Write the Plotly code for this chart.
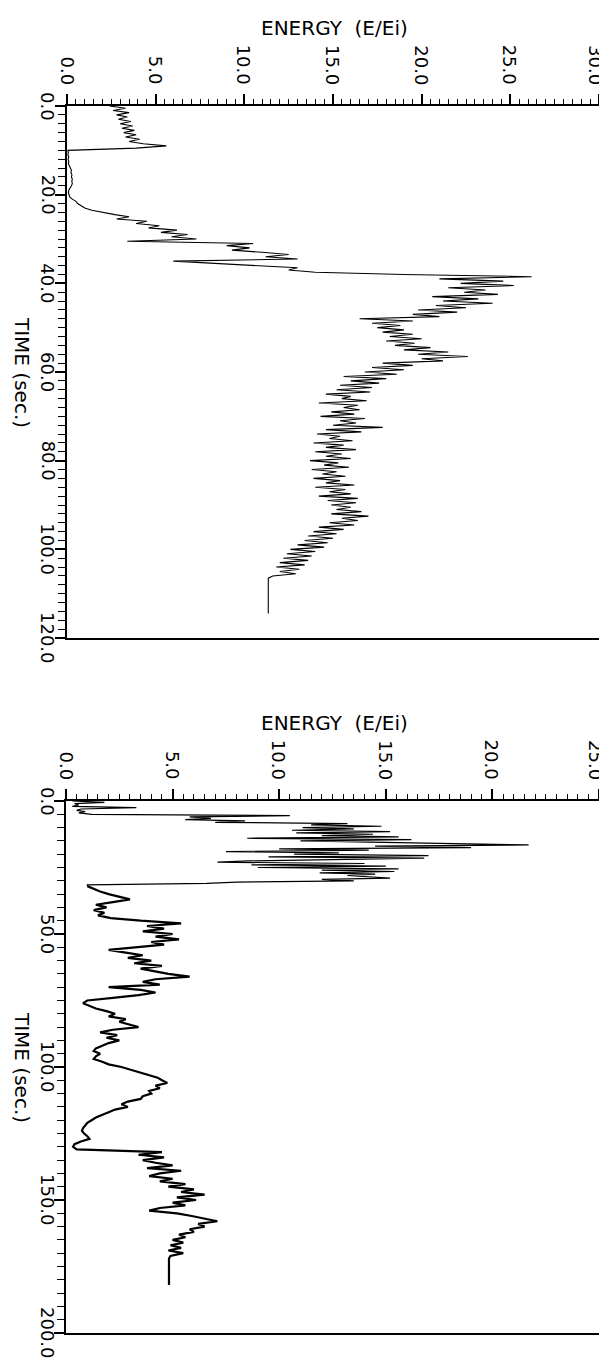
import plotly.graph_objects as go

# ---------------- data ----------------
# Upper chart: energy (E/Ei) sampled every 0.5 s from t = 0
TOP_DT = 0.5
TOP_E = [
    2.4, 3.3, 2.6, 3.5, 2.8, 3.4, 2.9, 3.6, 3.0, 3.7, 3.1, 3.8, 3.2, 3.9, 3.3, 4.1, 3.5, 4.3, 5.6, 3.9,
    0.05, 0.08, 0.05, 0.1, 0.06, 0.1, 0.08, 0.15, 0.2, 0.25, 0.22, 0.28, 0.25, 0.3, 0.27, 0.3, 0.25, 0.15, 0.1, 0.08, 0.1,
    0.15, 0.3, 0.5, 0.6, 0.8, 1.0, 1.4, 2.0, 2.7, 3.5,
    2.8, 4.5, 3.9, 5.2, 4.6, 6.2, 5.3, 6.8, 5.9, 7.3,
    3.4, 10.5, 9.0, 10.3, 9.3, 11.0, 12.5, 11.2, 13.0,
    6.0, 8.5, 11.0, 13.0, 12.5, 14.0, 19.0, 26.2,
    21.0, 24.6, 22.2, 25.2, 21.5, 23.6, 22.4, 24.3, 20.6, 23.2,
    21.2, 24.0, 20.8, 22.5, 19.8, 22.0, 19.5, 21.0, 16.5, 19.5,
    17.2, 18.8, 17.5, 19.0, 17.8, 19.5, 18.2, 20.0, 18.0, 19.6,
    18.5, 20.5, 19.0, 21.5, 19.8, 22.6, 20.0, 21.2, 17.8, 19.5,
    17.2, 19.0, 16.8, 18.6, 15.6, 18.0, 16.0, 17.6, 15.4, 17.2,
    15.2, 17.1, 14.6, 16.0, 15.5, 16.9, 14.2, 16.4, 15.6, 16.5,
    14.9, 16.2, 14.3, 16.8, 15.4, 16.3, 15.0, 17.8, 14.6, 16.6,
    14.1, 15.4, 14.8, 16.1, 13.9, 15.6, 14.6, 16.3, 14.0, 15.5,
    14.6, 16.0, 13.7, 15.3, 14.5, 15.9, 13.8, 15.2, 14.4, 15.7,
    13.9, 15.4, 14.6, 16.2, 14.0, 15.7, 14.8, 16.0, 14.2, 16.4,
    14.7, 16.3, 14.9, 16.0, 15.2, 16.6, 14.9, 17.0, 15.5, 16.4,
    14.8, 16.2, 14.2, 15.6, 13.9, 15.2, 13.6, 15.0, 13.4, 14.7,
    13.0, 14.5, 12.6, 14.0, 12.4, 13.8, 12.2, 13.6, 12.0, 13.4,
    11.8, 13.1, 12.0, 12.9, 11.6,
    11.35, 11.35, 11.35, 11.35, 11.35, 11.35, 11.35, 11.35, 11.35,
    11.35, 11.35, 11.35, 11.35, 11.35, 11.35, 11.35, 11.35,
]

# Lower chart, first part: sampled every 0.5 s from t = 0
BOT_FAST_DT = 0.5
BOT_FAST_E = [
    0.3, 1.8, 0.4, 0.6, 0.3, 3.3, 0.7, 0.5, 0.9, 0.6,
    1.2, 10.5, 5.8, 6.8, 5.6, 8.4, 7.0, 13.2, 11.5, 14.8,
    11.1, 13.5, 10.6, 15.2, 10.8, 14.4, 12.0, 15.6, 8.5, 16.2,
    11.0, 14.0, 18.2, 21.7, 14.5, 19.0, 10.0, 14.2, 7.5, 12.8,
    10.7, 17.0, 9.5, 16.8, 13.0, 8.6, 7.1, 14.0, 8.7, 15.0,
    9.0, 15.6, 12.0, 15.4, 11.9, 14.5, 13.2, 14.2, 15.2, 12.0,
    13.5, 8.0, 6.6, 1.0,
]
# Lower chart, second part: sampled every 1 s from t = 32
BOT_SLOW_T0 = 32.0
BOT_SLOW_DT = 1.0
BOT_SLOW_E = [
    1.0, 1.3, 1.6, 2.0, 2.5, 3.0, 2.2, 1.4, 1.9, 1.3,
    1.8, 1.5, 2.1, 3.5, 5.4, 3.8, 4.6, 3.6, 5.0, 4.2,
    5.3, 4.0, 4.6, 3.2, 2.0, 2.8, 3.6, 2.9, 4.0, 3.2,
    4.5, 3.5, 4.2, 4.8, 5.8, 4.2, 3.6, 4.4, 2.0, 3.5,
    4.2, 3.4, 2.2, 1.0, 0.8, 1.1, 1.4, 1.9, 2.3, 2.0,
    2.8, 2.5, 3.0, 3.4, 2.2, 1.6, 2.4, 1.9, 2.5, 2.0,
    1.7, 1.4, 1.3, 1.6, 1.4, 1.3, 1.7, 2.0, 2.6, 3.0,
    3.5, 3.9, 4.3, 4.5, 4.75, 4.2, 4.4, 3.9, 4.0, 3.6,
    3.5, 2.9, 2.6, 2.9, 2.3, 2.0, 1.7, 1.4, 1.2, 1.0,
    0.9, 0.8, 0.75, 0.85, 1.0, 1.1, 0.7, 0.4, 0.33, 0.5,
    4.5, 3.4, 4.6, 3.6, 4.2, 5.0, 3.8, 5.4, 4.4, 3.9,
    5.0, 4.4, 5.6, 4.8, 6.0, 5.4, 6.5, 5.2, 6.1, 5.0,
    5.6, 4.4, 3.9, 5.2, 5.9, 6.6, 7.1, 6.2, 6.5, 5.8,
    6.0, 5.3, 5.6, 5.0, 5.5, 4.9, 5.4, 4.8, 5.5, 4.9,
    4.83, 4.83, 4.83, 4.83, 4.83, 4.83, 4.83, 4.83, 4.83, 4.83, 4.83,
]

TOP_E_TICKS = [0, 5, 10, 15, 20, 25, 30]
TOP_T_TICKS = [0, 20, 40, 60, 80, 100, 120]
BOT_E_TICKS = [0, 5, 10, 15, 20, 25]
BOT_T_TICKS = [0, 50, 100, 150, 200]
E_TITLE = "ENERGY\u00a0\u00a0(E/Ei)"
T_TITLE = "TIME\u00a0(sec.)"

top_t = [i * TOP_DT for i in range(len(TOP_E))]
bot_fast_t = [i * BOT_FAST_DT for i in range(len(BOT_FAST_E))]
bot_slow_t = [BOT_SLOW_T0 + i * BOT_SLOW_DT for i in range(len(BOT_SLOW_E))]

# ---------------- layout geometry ----------------
W, H = 607, 1362
FONT = "DejaVu Sans"


def px_x(v):
    return v / W


def px_y(v):
    return 1 - v / H


fig = go.Figure()
fig.add_trace(go.Scatter(x=TOP_E, y=top_t, mode="lines",
                         line=dict(color="black", width=1.1),
                         xaxis="x", yaxis="y", showlegend=False))
fig.add_trace(go.Scatter(x=BOT_FAST_E + BOT_SLOW_E[:1], y=bot_fast_t + bot_slow_t[:1],
                         mode="lines", line=dict(color="black", width=1.2),
                         xaxis="x2", yaxis="y2", showlegend=False))
fig.add_trace(go.Scatter(x=BOT_SLOW_E, y=bot_slow_t, mode="lines",
                         line=dict(color="black", width=2.2),
                         xaxis="x2", yaxis="y2", showlegend=False))


def xaxis(domain, rng, ticks, anchor):
    return dict(domain=domain, range=rng, side="top", anchor=anchor,
                tickvals=ticks, showticklabels=False,
                ticks="outside", ticklen=10, tickwidth=1.5, tickcolor="black",
                showline=True, linecolor="black", linewidth=2, mirror=True,
                showgrid=False, zeroline=False, automargin=False,
                minor=dict(dtick=0.5, ticks="outside", ticklen=5,
                           tickwidth=1.2, tickcolor="black"))


def yaxis(domain, rng, ticks, minor, anchor):
    return dict(domain=domain, range=rng, side="left", anchor=anchor,
                tickvals=ticks, showticklabels=False,
                ticks="outside", ticklen=10, tickwidth=1.5, tickcolor="black",
                showline=True, linecolor="black", linewidth=2, mirror=True,
                showgrid=False, zeroline=False, automargin=False,
                minor=dict(dtick=minor, ticks="outside", ticklen=7,
                           tickwidth=1.2, tickcolor="black"))


TOP_LEFT, TOP_RIGHT, TOP_TOP, TOP_BOTTOM = 59, 591, 98, 630
BOT_LEFT, BOT_RIGHT, BOT_TOP, BOT_BOTTOM = 58, 591, 793, 1325

fig.update_layout(
    template="none",
    width=W, height=H,
    margin=dict(l=0, r=0, t=0, b=0, autoexpand=False),
    paper_bgcolor="white", plot_bgcolor="white",
    xaxis=xaxis([px_x(TOP_LEFT), px_x(TOP_RIGHT)], [0, 30], TOP_E_TICKS, "y"),
    yaxis=yaxis([px_y(TOP_BOTTOM), px_y(TOP_TOP)], [120, 0], TOP_T_TICKS, 2, "x"),
    xaxis2=xaxis([px_x(BOT_LEFT), px_x(BOT_RIGHT)], [0, 25], BOT_E_TICKS, "y2"),
    yaxis2=yaxis([px_y(BOT_BOTTOM), px_y(BOT_TOP)], [200, 0], BOT_T_TICKS, 5, "x2"),
    showlegend=False,
)

tick_font = dict(family=FONT, size=18, color="black")
title_font = dict(family=FONT, size=20, color="black")
annotations = []

# rotated tick labels, placed through the axes' own data coordinates
for xr, ticks, top in (("x", TOP_E_TICKS, TOP_TOP), ("x2", BOT_E_TICKS, BOT_TOP)):
    for i, v in enumerate(ticks):
        annotations.append(dict(text=f"{v:.1f}", x=v, xref=xr,
                                y=px_y(top - 20), yref="paper",
                                textangle=90, showarrow=False, font=tick_font,
                                xshift=-3 if i == len(ticks) - 1 else 0,
                                xanchor="center", yanchor="bottom", borderpad=0))
for yr, ticks in (("y", TOP_T_TICKS), ("y2", BOT_T_TICKS)):
    for v in ticks:
        annotations.append(dict(text=f"{v:.1f}", y=v, yref=yr,
                                x=px_x(40), xref="paper",
                                textangle=90, showarrow=False, font=tick_font,
                                xanchor="center", yanchor="middle", borderpad=0))

# axis titles
for top, bottom in ((TOP_TOP, TOP_BOTTOM), (BOT_TOP, BOT_BOTTOM)):
    annotations.append(dict(text=E_TITLE, x=px_x(326), y=px_y(top - 78),
                            xref="paper", yref="paper", showarrow=False,
                            font=title_font, xanchor="center", yanchor="middle"))
    annotations.append(dict(text=T_TITLE, x=px_x(14), y=px_y((top + bottom) / 2),
                            xref="paper", yref="paper", showarrow=False,
                            font=title_font, textangle=90,
                            xanchor="center", yanchor="middle"))
fig.update_layout(annotations=annotations)

fig.write_html("out.html")
